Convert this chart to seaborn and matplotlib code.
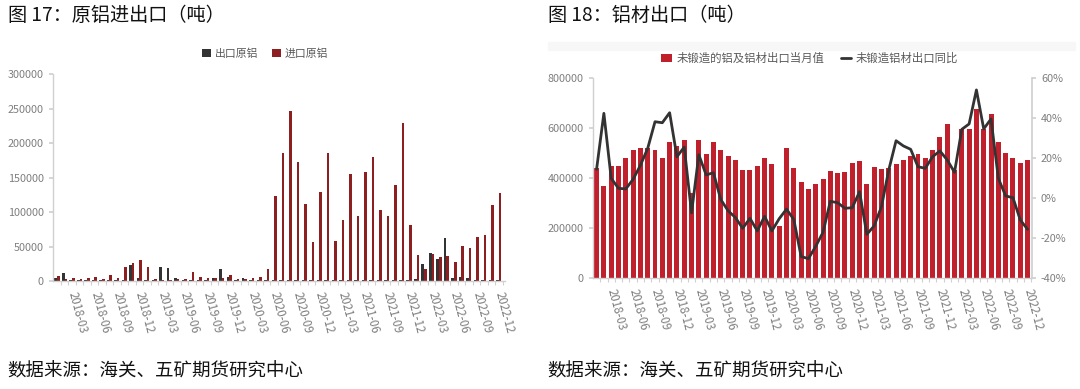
import numpy as np
import pandas as pd
import matplotlib
matplotlib.use('Agg')
import matplotlib.pyplot as plt
import seaborn as sns
from matplotlib.patches import Rectangle
from matplotlib.ticker import FuncFormatter, MultipleLocator

# monthly categories 2018-01 .. 2022-12
months = list(pd.date_range('2018-01-01', periods=60, freq='MS').strftime('%Y-%m'))

# 图17 原铝进出口 (吨)
export_al = [4000, 11500, 1500, 1000, 1500, 1500, 2000, 1500, 2000, 1500,
             23000, 5000, 2000, 1500, 21000, 19500, 4500, 1000, 1500, 1500,
             1500, 5000, 17000, 6300, 1500, 5000, 1500, 1500, 1500, 1500,
             1500, 1500, 1500, 1500, 1500, 1500, 1500, 1500, 1500, 1500,
             2000, 2000, 2000, 1500, 1500, 1500, 1500, 2000, 3000, 24000,
             41000, 31500, 63000, 4400, 6300, 4400, 1500, 1500, 1500, 2000]
import_al = [7000, 3000, 5000, 3500, 5000, 6500, 3500, 8000, 5000, 21000,
             26000, 30000, 20000, 3000, 1500, 1500, 3000, 3000, 13000, 6300,
             5000, 5000, 5000, 8000, 3000, 3400, 5000, 6000, 17500, 123000,
             185000, 247000, 172000, 111600, 56300, 129500, 186000, 57700, 87800, 154700,
             94600, 158000, 180000, 102800, 94600, 139700, 228400, 81000, 37800, 18000,
             39000, 34500, 36000, 27600, 51000, 48000, 64500, 66500, 109600, 128000]

# 图18 铝材出口
alu_export = [442700, 370600, 450600, 450600, 482600, 514600, 522600, 522600, 514600, 482600,
              546600, 530600, 554600, 343000, 554600, 498600, 546600, 514600, 490600, 474600,
              434600, 434600, 450600, 482600, 458600, 210600, 522600, 442600, 384000, 357300,
              376000, 398000, 429300, 420000, 424000, 460000, 469300, 376000, 446700, 437300,
              442700, 456000, 473300, 490700, 496000, 482700, 513300, 566700, 616000, 433300,
              597300, 597300, 677300, 597300, 656000, 544000, 500000, 482700, 460000, 473300]
alu_yoy = [14.5, 42.5, 10, 5, 4.7, 9.5, 16.5, 25, 38.3, 37.8,
           42.8, 20.8, 25.6, -7.3, 21.8, 11.7, 12.8, -0.6, -6.2, -9.6,
           -15, -10, -16.3, -9, -16.3, -10.2, -5.4, -10.6, -29.1, -30.2,
           -24, -17, -1.5, -2.2, -5, -4.7, 3.3, -18, -13.8, -4.2,
           14.2, 28.8, 26.2, 24.5, 15.8, 15, 20.8, 23.7, 19.2, 13,
           34.5, 37.2, 54.2, 34.7, 39.7, 10, 1.2, 0.3, -10.8, -15.5]

sns.set_theme(style='white')
plt.rcParams['font.family'] = ['Noto Sans CJK SC', 'DejaVu Sans']
plt.rcParams['axes.unicode_minus'] = False

GRAY = '#7f7f7f'
SPINE = '#d0d0d0'

fig = plt.figure(figsize=(10.8, 3.89), dpi=100)

# faint header band of the right chart frame
fig.patches.append(Rectangle((548 / 1080, 1 - 50 / 389), (1075 - 548) / 1080, 8 / 389,
                             transform=fig.transFigure, color='#f7f7f7', zorder=0))

# ---------- left chart ----------
ax1 = fig.add_axes([0.049, 0.2776, 0.4185, 0.532])
df1 = pd.DataFrame({'month': months * 2,
                    'value': export_al + import_al,
                    'series': ['出口原铝'] * 60 + ['进口原铝'] * 60})
sns.barplot(data=df1, x='month', y='value', hue='series', order=months,
            palette={'出口原铝': '#333333', '进口原铝': '#a00c10'},
            width=0.68, linewidth=0, ax=ax1)
ax1.set_ylim(0, 300000)
ax1.set_xlim(-0.55, 59.8)
ax1.yaxis.set_major_locator(MultipleLocator(50000))
ax1.legend(loc='center', bbox_to_anchor=(0.47, 1.10), ncol=2, frameon=False,
           fontsize=7.8, handlelength=0.8, handleheight=0.8, handletextpad=0.4,
           columnspacing=1.2, labelcolor='#595959')

# ---------- right chart ----------
ax2 = fig.add_axes([0.549, 0.2846, 0.4065, 0.514])
sns.barplot(x=months, y=alu_export, color='#c01f2c', width=0.68, linewidth=0,
            saturation=1, ax=ax2, label='未锻造的铝及铝材出口当月值')
ax2.set_ylim(0, 800000)
ax2.set_xlim(-0.5, 59.6)
ax2.yaxis.set_major_locator(MultipleLocator(200000))
ax3 = ax2.twinx()
sns.lineplot(x=np.arange(len(months)), y=alu_yoy, color='#333333', linewidth=2,
             ax=ax3, label='未锻造铝材出口同比')
ax3.set_ylim(-40, 60)
ax3.yaxis.set_major_locator(MultipleLocator(20))
ax3.yaxis.set_major_formatter(FuncFormatter(lambda v, p: f'{v:.0f}%'))
h1, l1 = ax2.get_legend_handles_labels()
h2, l2 = ax3.get_legend_handles_labels()
if ax2.get_legend():
    ax2.get_legend().remove()
ax3.legend(h1 + h2, l1 + l2, loc='center', bbox_to_anchor=(0.494, 1.10), ncol=2,
           frameon=False, fontsize=8.2, handlelength=0.9, handleheight=0.8,
           handletextpad=0.4, columnspacing=1.5, labelcolor='#595959')

# ---------- shared axis styling ----------
for ax in (ax1, ax2):
    ticks = list(range(2, 60, 3))
    ax.set_xticks(ticks)
    ax.set_xticklabels([months[i] for i in ticks], rotation=-75, ha='left',
                       va='center', rotation_mode='anchor', fontsize=8.3, color=GRAY)
    ax.set_xticks(np.arange(60) + 0.5, minor=True)
    ax.tick_params(axis='x', which='minor', length=3, color=SPINE, width=0.8, bottom=True)
    ax.tick_params(axis='x', which='major', length=0, pad=8)
    ax.tick_params(axis='y', labelsize=7.8, labelcolor=GRAY, length=3, color=SPINE,
                   left=True)
    for side in ('top', 'right'):
        ax.spines[side].set_visible(False)
    for side in ('left', 'bottom'):
        ax.spines[side].set_color(SPINE)
        ax.spines[side].set_linewidth(1)
    ax.set_xlabel('')
    ax.set_ylabel('')

ax3.tick_params(axis='y', labelsize=7.8, labelcolor=GRAY, length=3, color=SPINE,
                right=True)
for side in ('top', 'left', 'bottom'):
    ax3.spines[side].set_visible(False)
ax3.spines['right'].set_color(SPINE)
ax3.set_ylabel('')

# ---------- titles and sources ----------
fig.text(0.007, 0.961, '图 17：原铝进出口（吨）', fontsize=13.8, va='center', color='#111111')
fig.text(0.507, 0.961, '图 18：铝材出口（吨）', fontsize=13.8, va='center', color='#111111')
fig.text(0.007, 0.044, '数据来源：海关、五矿期货研究中心', fontsize=13.3, va='center', color='#111111')
fig.text(0.507, 0.044, '数据来源：海关、五矿期货研究中心', fontsize=13.3, va='center', color='#111111')

fig.savefig('out.png', dpi=100)
